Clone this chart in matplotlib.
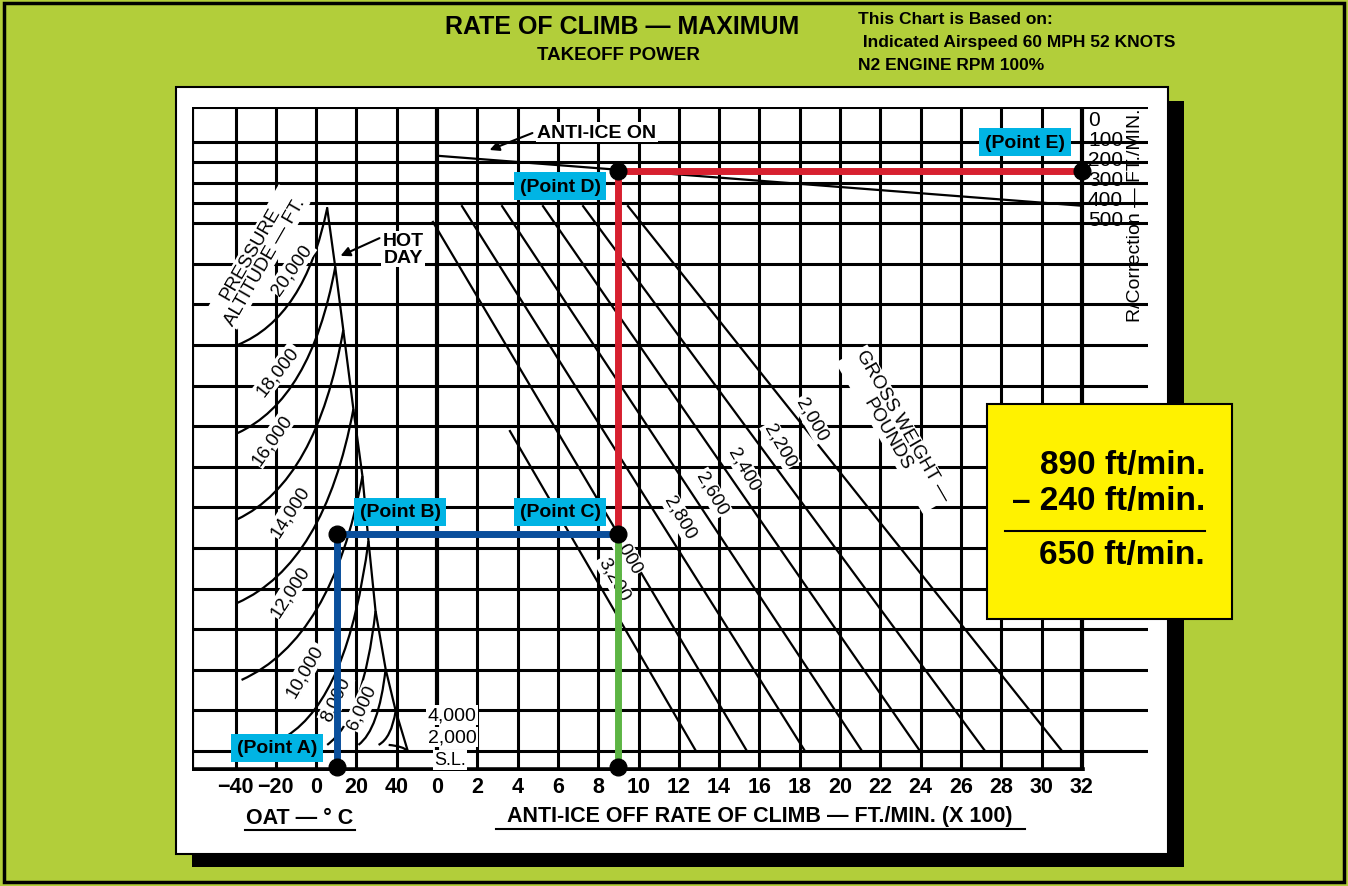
import matplotlib
matplotlib.use("Agg")
import matplotlib.pyplot as plt
from matplotlib.patches import Rectangle, PathPatch
from matplotlib.path import Path

plt.rcParams['font.family'] = ['Liberation Sans', 'DejaVu Sans']

# ---------------- data (chart units) ----------------
# x: rate of climb (x100 ft/min); OAT converted by r = -6 + T/10 ; y: grid rows above S.L. line
oat_ticks = [-40, -20, 0, 20, 40]
rate_ticks = list(range(0, 33, 2))
alt_labels = ["20,000", "18,000", "16,000", "14,000", "12,000", "10,000", "8,000", "6,000", "4,000", "2,000"]
alt_start_oat = [-39, -39, -39, -39, -37, -14.5, 5.5, 21, 31, 36]
alt_start_row = [10.0, 7.83, 5.71, 3.65, 1.75, 0.37, 0.15, 0.15, 0.15, 0.15]
hot_oat = [5.5, 9.5, 13.5, 18.5, 23, 26, 29.5, 34.5, 39.5, 45.5]
hot_row = [13.37, 11.92, 10.37, 8.42, 6.77, 5.17, 3.45, 2.02, 0.99, 0.0]
gw_labels = ["3,200", "3,000", "2,800", "2,600", "2,400", "2,200", "2,000"]
gw_top_rate = [3.62, -0.2, 1.24, 3.23, 5.26, 7.25, 9.48]
gw_top_row = [7.88, 13.03, 13.42, 13.42, 13.42, 13.42, 13.42]
gw_bot_rate = [12.85, 15.38, 18.26, 21.09, 23.97, 27.2, 31.02]
antiice_rate = [0.05, 32.0]
antiice_row = [14.66, 13.43]
rc_ticks = [0, 100, 200, 300, 400, 500]
point_A = (10.5, -0.39)   # (OAT, row)
point_B = (10.5, 5.34)
point_C = (9.0, 5.34)     # (rate, row)
point_D = (9.0, 14.29)
point_E = (32.0, 14.29)
point_F = (9.0, -0.39)
result_lines = ["890 ft/min.", "– 240 ft/min.", "650 ft/min."]

def oat2r(t):
    return -6 + t / 10.0

W, H = 1348, 887
fig = plt.figure(figsize=(W / 100, H / 100), dpi=100)
fig.patch.set_facecolor('#B2CE3A')

def pix_axes(z):
    a = fig.add_axes([0, 0, 1, 1])
    a.set_xlim(0, W); a.set_ylim(H, 0); a.axis('off'); a.patch.set_alpha(0); a.set_zorder(z)
    return a

bg = pix_axes(0)
bg.add_patch(Rectangle((4, 4), W - 8, H - 8, fill=False, ec='black', lw=2.5))
bg.add_patch(Rectangle((192, 102), 992, 766, fc='black', ec='none'))
bg.add_patch(Rectangle((176, 88), 992, 767, fc='white', ec='black', lw=1.5))

bg.text(622, 27, "RATE OF CLIMB — MAXIMUM", ha='center', va='center', fontsize=18, fontweight='bold')
bg.text(618, 56, "TAKEOFF POWER", ha='center', va='center', fontsize=13.5, fontweight='bold')
bg.text(858, 19, "This Chart is Based on:", ha='left', va='center', fontsize=12.5, fontweight='bold')
bg.text(858, 43, " Indicated Airspeed 60 MPH 52 KNOTS", ha='left', va='center', fontsize=12.5, fontweight='bold')
bg.text(858, 66, "N2 ENGINE RPM 100%", ha='left', va='center', fontsize=12.5, fontweight='bold')

# data axes
L, R, T, B = 192, 1148, 108, 772
def data_axes(z):
    a = fig.add_axes([L / W, 1 - B / H, (R - L) / W, (B - T) / H])
    a.set_xlim((L - 437) / 20.15, (R - 437) / 20.15)
    a.set_ylim((752 - B) / 40.6, (752 - T) / 40.6)
    a.axis('off'); a.patch.set_alpha(0); a.set_zorder(z)
    return a

ax = data_axes(1)
x0, x1 = ax.get_xlim(); y0, y1 = ax.get_ylim()

for k in list(range(0, 16)) + [13.5, 14.5]:
    ax.plot([x0, x1], [k, k], color='black', lw=2.2, solid_capstyle='butt', zorder=1)
ax.plot([x0, x1], [y1, y1], color='black', lw=2.2, zorder=1)
for v in range(-10, 33, 2):
    ax.plot([v, v], [y0, y1], color='black', lw=2.2 if v not in (0, 32) else 3, zorder=1)
ax.plot([x0, x0], [y0, y1], color='black', lw=3, zorder=1)
ax.plot([x0, 32], [y0 + 0.02, y0 + 0.02], color='black', lw=4, zorder=2)

for sx, sy, ex, ey in zip(alt_start_oat, alt_start_row, hot_oat, hot_row):
    a = (oat2r(sx), sy); b = (oat2r(ex), ey)
    c = (a[0] + 0.75 * (b[0] - a[0]), a[1] + 0.2 * (b[1] - a[1]))
    ax.add_patch(PathPatch(Path([a, c, b], [Path.MOVETO, Path.CURVE3, Path.CURVE3]),
                           fc='none', ec='black', lw=1.6, zorder=3))
ax.plot([oat2r(t) for t in hot_oat], hot_row, color='black', lw=1.6, zorder=3)

for tr, trw, br in zip(gw_top_rate, gw_top_row, gw_bot_rate):
    ax.plot([tr, br], [trw, 0], color='black', lw=1.6, zorder=3)
ax.plot(antiice_rate, antiice_row, color='black', lw=1.6, zorder=3)

# label layer (pixel coords)
tx = pix_axes(2)
wb = dict(fc='white', ec='none', pad=1.0)
def lbl(x, y, s, fs=14, rot=0, fw='normal', ha='center', box=True):
    tx.text(x, y, s, fontsize=fs, rotation=rot, fontweight=fw, ha=ha, va='center',
            rotation_mode='anchor', bbox=wb if box else None, zorder=10, linespacing=1.0)

lbl(258, 258, "PRESSURE\nALTITUDE — FT.", rot=60, fs=13.5)
alt_pos = [(292, 270, 55), (278, 372, 52), (272, 440, 55), (290, 512, 57), (290, 592, 57),
           (305, 672, 60), (336, 700, 65), (362, 708, 65)]
for (x, y, r), s in zip(alt_pos, alt_labels):
    lbl(x, y, s, rot=r, fs=13.5)
lbl(452, 716, alt_labels[8], fs=14)
lbl(452, 738, alt_labels[9], fs=14)
lbl(450, 761, "S.L.", fs=13)
lbl(403, 250, "HOT\nDAY", fw='bold', fs=14)
tx.annotate("", xy=(338, 258), xytext=(382, 238),
            arrowprops=dict(arrowstyle='-|>', color='black', lw=1.5, mutation_scale=14), zorder=11)
lbl(597, 133, "ANTI-ICE ON", fw='bold', fs=14)
tx.annotate("", xy=(487, 152), xytext=(535, 133),
            arrowprops=dict(arrowstyle='-|>', color='black', lw=1.5, mutation_scale=14), zorder=11)

gw_pos = [(614, 580), (626, 553), (680, 518), (712, 494), (744, 470), (780, 446), (812, 420)]
for (x, y), s in zip(gw_pos, gw_labels):
    lbl(x, y, s, rot=-60, fs=13.5)
lbl(895, 430, "GROSS WEIGHT —\nPOUNDS", rot=-60, fs=13.5)

for i, v in enumerate(rc_ticks):
    lbl(1088, 121 + i * 20, str(v), ha='left', fs=15, box=False)
lbl(1136, 215, "R/Correction — FT./MIN.", rot=90, fs=14, box=False)

for t in oat_ticks:
    lbl(316 + 2.015 * t, 788, ("−" if t < 0 else "") + str(abs(t)), fw='bold', fs=15.5, box=False)
for r in rate_ticks:
    lbl(437 + 20.15 * r, 788, str(r), fw='bold', fs=15.5, box=False)
lbl(300, 819, "OAT — ° C", fw='bold', fs=15.5, box=False)
tx.plot([245, 355], [831, 831], color='black', lw=1.5)
lbl(760, 817, "ANTI-ICE OFF RATE OF CLIMB — FT./MIN. (X 100)", fw='bold', fs=15.5, box=False)
tx.plot([496, 1025], [830, 830], color='black', lw=1.5)

# path lines above labels
top = data_axes(3)
top.plot([oat2r(point_A[0]), oat2r(point_B[0]), point_C[0]], [point_A[1], point_B[1], point_C[1]],
         color='#0A4F9C', lw=5, zorder=5, solid_capstyle='butt')
top.plot([point_C[0], point_F[0]], [point_C[1], point_F[1]], color='#5DB544', lw=5, zorder=5)
top.plot([point_C[0], point_D[0], point_E[0]], [point_C[1], point_D[1], point_E[1]],
         color='#D7202F', lw=5, zorder=5)
top.plot([oat2r(point_A[0]), oat2r(point_B[0]), point_C[0], point_D[0], point_E[0], point_F[0]],
         [point_A[1], point_B[1], point_C[1], point_D[1], point_E[1], point_F[1]],
         'o', color='black', ms=12, zorder=6, clip_on=False)

# boxes on top
ov = pix_axes(4)
cyan = dict(fc='#00B4E4', ec='none', pad=4)
for x, y, s in [(277, 749, "(Point A)"), (400, 513, "(Point B)"), (560, 513, "(Point C)"),
                (560, 187, "(Point D)"), (1025, 143, "(Point E)")]:
    ov.text(x, y, s, ha='center', va='center', fontsize=14, fontweight='bold', bbox=cyan, zorder=12)

ov.add_patch(Rectangle((987, 405), 245, 215, fc='#FFF200', ec='black', lw=1.5, zorder=12))
for y, s in zip([466, 502, 556], result_lines):
    ov.text(1205, y, s, ha='right', va='center', fontsize=24, fontweight='bold', zorder=13)
ov.plot([1005, 1205], [532, 532], color='black', lw=1.5, zorder=13)

fig.savefig("out.png", dpi=100)
